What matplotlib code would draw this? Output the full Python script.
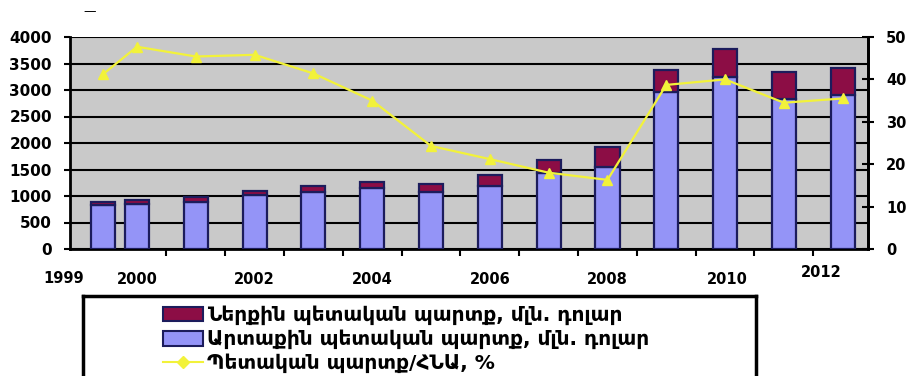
import matplotlib
matplotlib.use("Agg")
import matplotlib.pyplot as plt
import numpy as np
from matplotlib.patches import Patch
from matplotlib.lines import Line2D

# Armenian public debt, 1999-2012
years = [1999, 2000, 2001, 2002, 2003, 2004, 2005, 2006, 2007, 2008, 2009, 2010, 2011, 2012]
external_debt = [830, 840, 895, 1020, 1080, 1145, 1080, 1190, 1440, 1550, 2970, 3250, 2825, 2905]
internal_debt = [60, 80, 90, 80, 115, 125, 145, 205, 240, 380, 410, 525, 510, 505]
debt_to_gdp = [41.2, 47.7, 45.4, 45.8, 41.4, 35.0, 24.3, 21.2, 18.0, 16.3, 38.7, 40.0, 34.5, 35.5]

year_labels = ['1999', '2000', '2002', '2004', '2006', '2008', '2010', '2012']
left_ticks = [0, 500, 1000, 1500, 2000, 2500, 3000, 3500, 4000]
right_ticks = [0, 10, 20, 30, 40, 50]

label_internal = 'Ներքին պետական պարտք, մլն. դոլար'
label_external = 'Արտաքին պետական պարտք, մլն. դոլար'
label_ratio = 'Պետական պարտք/ՀՆԱ, %'

c_internal = '#8c0d45'
c_external = '#9494f7'
c_edge = '#1c1c5c'
c_line = '#f2f23a'

W, H = 906, 376
fig = plt.figure(figsize=(W / 100, H / 100), dpi=100)
ax = fig.add_axes([70 / W, 1 - 249 / H, (868 - 70) / W, (249 - 37) / H])
ax.set_facecolor('#c9c9c9')

# 2000..2012 sit one slot apart; the 1999 bar is squeezed in left of 2000
xpos = np.arange(len(years), dtype=float)
xpos[0] = 0.42
bw = 0.41

ax.bar(xpos, external_debt, bw, color=c_external, edgecolor=c_edge, linewidth=1.6, zorder=3)
ax.bar(xpos, internal_debt, bw, bottom=external_debt, color=c_internal,
       edgecolor=c_edge, linewidth=1.6, zorder=3)

ax.set_xlim(-0.139, 13.43)
ax.set_ylim(0, 4000)
ax.set_yticks(left_ticks)
ax.yaxis.grid(True, color='black', linewidth=1.5, zorder=1)
ax.set_axisbelow(True)
ax.tick_params(axis='y', direction='out', length=4, width=1.5, pad=9,
               labelsize=11)
for t in ax.get_yticklabels():
    t.set_fontweight('bold')

ax.set_xticks([])
ax.set_xticks(np.arange(1.5, 13, 1.0), minor=True)
ax.tick_params(axis='x', which='minor', direction='out', length=5, width=1.5)

for side in ['left', 'bottom', 'right']:
    ax.spines[side].set_linewidth(2)
ax.spines['top'].set_visible(False)

# year labels under the axis
label_x = [-0.24, 1.0, 3.0, 5.0, 7.0, 9.0, 11.03, 12.63]
label_y = [-0.138, -0.142, -0.142, -0.142, -0.142, -0.142, -0.142, -0.113]
for lx, ly, txt in zip(label_x, label_y, year_labels):
    ax.text(lx, ly, txt, transform=ax.get_xaxis_transform(), ha='center', va='center',
            fontsize=10.5, fontweight='bold')

ax2 = ax.twinx()
ax2.plot(xpos, debt_to_gdp, color=c_line, linewidth=1.6, marker='^', markersize=7,
         markeredgecolor=c_line, zorder=5)
ax2.set_ylim(0, 50)
ax2.set_yticks(right_ticks)
ax2.tick_params(axis='y', direction='inout', length=8, width=1.5, pad=9, labelsize=10.5)
for t in ax2.get_yticklabels():
    t.set_fontweight('bold')
for side in ['left', 'bottom', 'top']:
    ax2.spines[side].set_visible(False)
ax2.spines['right'].set_linewidth(2)

fig.text(90 / W, 1 - 12 / H, '—', ha='center', va='center', fontsize=9)

# legend box under the chart
lax = fig.add_axes([83 / W, -0.02, (756 - 83) / W, 1 - 296 / H + 0.02])
lax.set_xticks([])
lax.set_yticks([])
for s in lax.spines.values():
    s.set_linewidth(2.5)
handles = [
    Patch(facecolor=c_internal, edgecolor=c_edge, linewidth=1.5),
    Patch(facecolor=c_external, edgecolor=c_edge, linewidth=1.5),
    Line2D([0], [0], color=c_line, linewidth=1.5, marker='D', markersize=6),
]
lax.legend(handles, [label_internal, label_external, label_ratio],
           loc='upper left', bbox_to_anchor=((163 - 83) / 673, 0.89),
           frameon=False, prop={'size': 14.5, 'weight': 'bold'},
           handlelength=2.0, handleheight=0.75, handletextpad=0.2,
           labelspacing=0.22, borderpad=0, borderaxespad=0)

fig.savefig('out.png', dpi=100)
